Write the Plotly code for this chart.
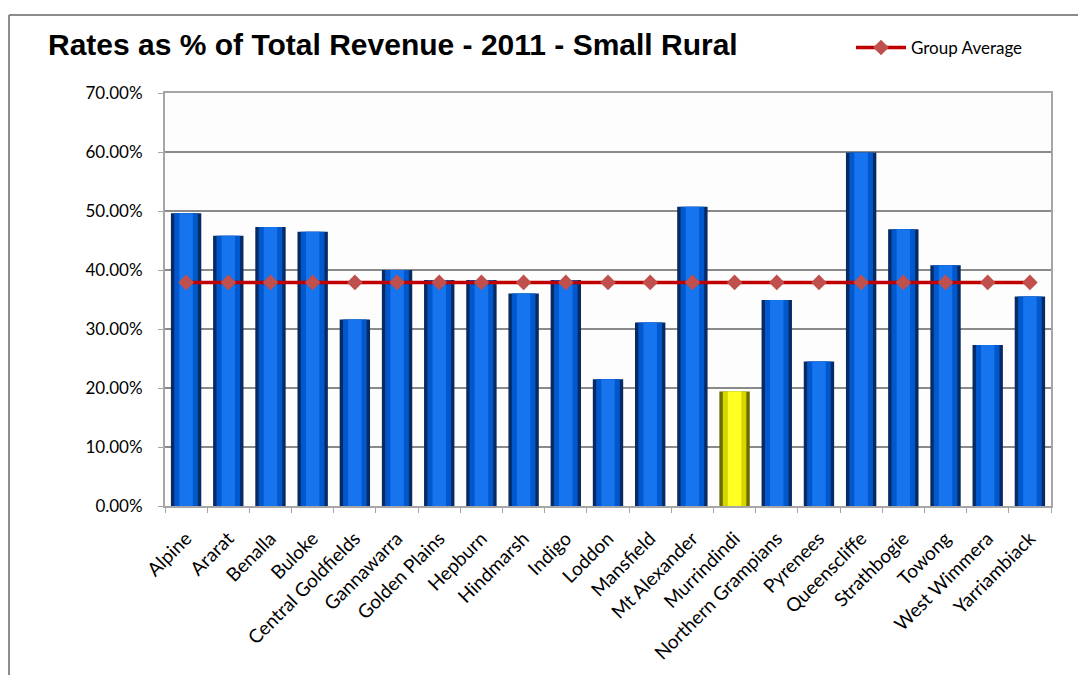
import plotly.graph_objects as go

councils = ["Alpine", "Ararat", "Benalla", "Buloke", "Central Goldfields", "Gannawarra",
            "Golden Plains", "Hepburn", "Hindmarsh", "Indigo", "Loddon", "Mansfield",
            "Mt Alexander", "Murrindindi", "Northern Grampians", "Pyrenees", "Queenscliffe",
            "Strathbogie", "Towong", "West Wimmera", "Yarriambiack"]
rates_pct = [49.6, 45.8, 47.3, 46.5, 31.6, 40.0, 38.3, 38.3, 36.0, 38.3, 21.5, 31.1,
             50.7, 19.4, 34.9, 24.5, 59.9, 46.9, 40.8, 27.3, 35.5]
group_average = [37.9, 37.9, 37.9, 37.9, 37.9, 37.9, 37.9, 37.9, 37.9, 37.9, 37.9, 37.9,
                 37.9, 37.9, 37.9, 37.9, 37.9, 37.9, 37.9, 37.9, 37.9]
highlighted = "Murrindindi"
y_ticks = [0, 10, 20, 30, 40, 50, 60, 70]
y_tick_labels = ["0.00%", "10.00%", "20.00%", "30.00%", "40.00%", "50.00%", "60.00%", "70.00%"]

W, H = 1086, 675
L, R, T, B = 157, 43, 85, 177

edge = ["#6B6B00" if c == highlighted else "#082a63" for c in councils]
mid = ["#D6D600" if c == highlighted else "#0058CC" for c in councils]
light = ["#FFFF20" if c == highlighted else "#1574EE" for c in councils]

fig = go.Figure()
fig.add_trace(go.Bar(x=councils, y=rates_pct, width=0.72, marker=dict(color=edge, line=dict(width=0)),
                     showlegend=False, hoverinfo="skip"))
fig.add_trace(go.Bar(x=councils, y=rates_pct, width=0.56, marker=dict(color=mid, line=dict(width=0)),
                     showlegend=False, hoverinfo="skip"))
fig.add_trace(go.Bar(x=councils, y=rates_pct, width=0.32, marker=dict(color=light, line=dict(width=0)),
                     showlegend=False, name="Rates"))
fig.add_trace(go.Scatter(x=councils, y=group_average, mode="lines+markers", name="Group Average",
                         line=dict(color="#C00000", width=3.5),
                         marker=dict(symbol="diamond", size=12, color="#C0504D")))

# outer frame
px = lambda v: (v - L) / (W - L - R)
py = lambda v: 1 - (v - T) / (H - T - B)
fig.add_shape(type="line", xref="paper", yref="paper", x0=px(1), x1=px(1), y0=py(7), y1=py(680),
              line=dict(color="#8C8C8C", width=2))
fig.add_shape(type="line", xref="paper", yref="paper", x0=px(1), x1=px(1090), y0=py(7), y1=py(7),
              line=dict(color="#8C8C8C", width=2))

fig.update_layout(
    width=W, height=H,
    margin=dict(l=L, r=R, t=T, b=B, autoexpand=False),
    paper_bgcolor="white", plot_bgcolor="#FDFDFD",
    barmode="overlay", bargap=0.28,
    title=dict(text="<b>Rates as % of Total Revenue - 2011 - Small Rural</b>",
               x=40 / W, xanchor="left", y=1 - 36 / H, yanchor="middle",
               font=dict(family="Liberation Sans, Arial", size=30, color="black")),
    legend=dict(xref="container", yref="container", x=843 / W, y=1 - 40 / H, yanchor="middle",
                xanchor="left", itemwidth=50, font=dict(family="Lato", size=17, color="black"),
                bgcolor="rgba(0,0,0,0)"),
    font=dict(family="Lato", size=17, color="black"),
)
fig.update_xaxes(type="category", range=[-0.5, len(councils) - 0.5], tickangle=-45,
                 tickfont=dict(family="Lato", size=19),
                 showline=True, linecolor="#A6A6A6", linewidth=2, mirror=True,
                 ticks="outside", tickson="boundaries", ticklen=5, tickcolor="#A6A6A6",
                 ticklabelstandoff=12,
                 showgrid=False, automargin=False)
fig.update_yaxes(range=[0, 70], tickvals=y_ticks, ticktext=y_tick_labels,
                 tickfont=dict(family="Lato", size=17),
                 showgrid=True, gridcolor="#8A8A8A", gridwidth=1.5,
                 showline=True, linecolor="#A6A6A6", linewidth=2, mirror=True,
                 ticks="outside", ticklen=5, tickcolor="#A6A6A6", ticklabelstandoff=12,
                 zeroline=False, automargin=False)

fig.write_html("out.html")
